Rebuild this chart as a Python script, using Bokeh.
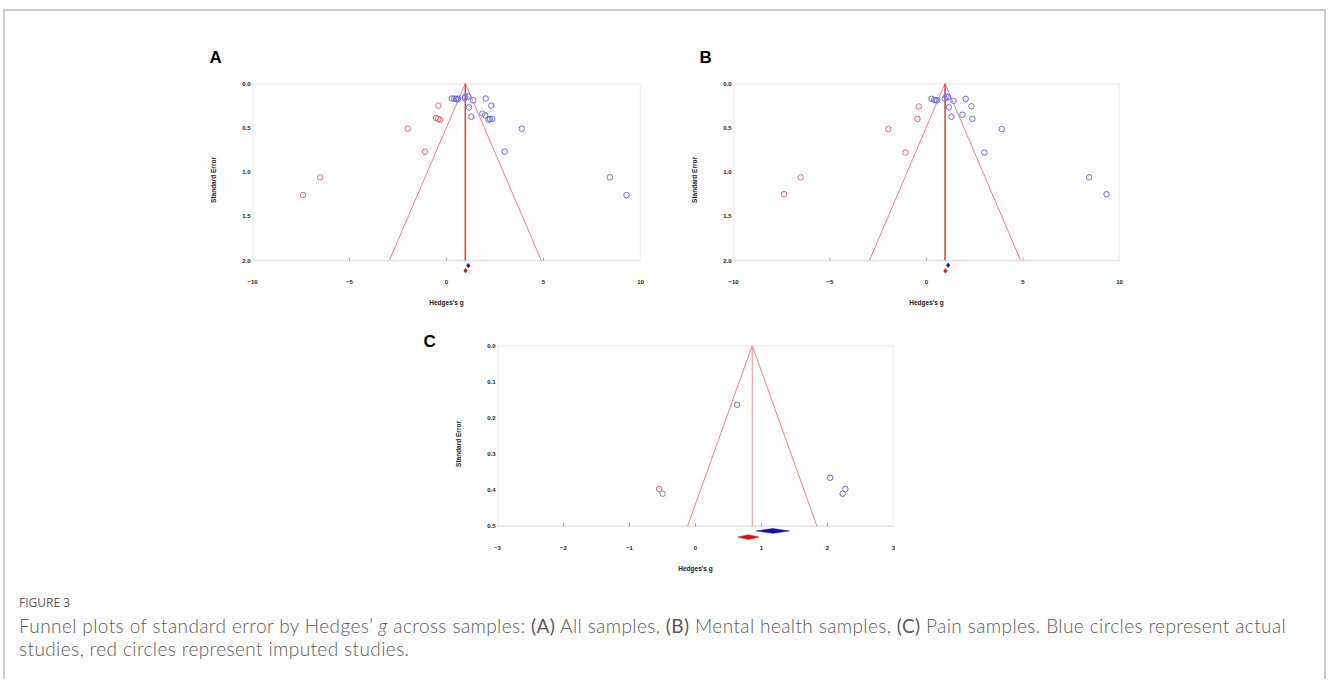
from bokeh.plotting import figure
from bokeh.models import FixedTicker, PrintfTickFormatter, BoxAnnotation, Div, Range1d
from bokeh.layouts import row, column
from bokeh.embed import file_html
from bokeh.resources import INLINE

# ---------------- data ----------------
# Panel A: all samples
A_obs_g  = [0.27, 0.40, 0.49, 0.55, 0.60, 0.94, 0.97, 1.12, 1.38, 2.02, 2.31, 1.16, 1.28,
            1.85, 1.99, 2.17, 2.24, 2.36, 3.88, 3.00, 8.42, 9.28]
A_obs_se = [0.17, 0.17, 0.175, 0.18, 0.17, 0.165, 0.15, 0.145, 0.19, 0.17, 0.25, 0.27, 0.375,
            0.34, 0.36, 0.41, 0.40, 0.40, 0.51, 0.77, 1.06, 1.26]
A_imp_g  = [-0.42, -0.54, -0.43, -0.33, -2.00, -1.11, -6.51, -7.40]
A_imp_se = [0.25, 0.39, 0.40, 0.41, 0.51, 0.77, 1.06, 1.26]
A_mean = 0.97
A_se_max = 2.0
# summary diamonds: [estimate, lower, upper, y]
A_diam_obs = [1.12, 1.03, 1.21, 2.057]
A_diam_imp = [0.98, 0.89, 1.07, 2.113]

# Panel B: mental health samples
B_obs_g  = [0.26, 0.40, 0.48, 0.55, 0.95, 1.03, 1.12, 1.40, 2.03, 2.33, 1.16, 1.29, 1.86,
            2.38, 3.90, 3.00, 8.43, 9.33]
B_obs_se = [0.173, 0.185, 0.19, 0.19, 0.17, 0.147, 0.155, 0.195, 0.173, 0.257, 0.27, 0.376,
            0.353, 0.398, 0.515, 0.78, 1.06, 1.25]
B_imp_g  = [-0.40, -0.47, -1.98, -1.09, -6.52, -7.38]
B_imp_se = [0.26, 0.40, 0.515, 0.78, 1.06, 1.25]
B_mean = 0.96
B_se_max = 2.0
B_diam_obs = [1.12, 1.03, 1.21, 2.053]
B_diam_imp = [0.98, 0.89, 1.07, 2.117]

# Panel C: pain samples
C_obs_g  = [0.63, 2.04, 2.27, 2.23]
C_obs_se = [0.164, 0.366, 0.397, 0.41]
C_imp_g  = [-0.55, -0.50]
C_imp_se = [0.397, 0.41]
C_mean = 0.86
C_se_max = 0.5
C_diam_obs = [1.17, 0.92, 1.42, 0.513]
C_diam_imp = [0.80, 0.64, 0.96, 0.530]

AB_xticks = [-10, -5, 0, 5, 10]
AB_yticks = [0.0, 0.5, 1.0, 1.5, 2.0]
C_xticks = [-3, -2, -1, 0, 1, 2, 3]
C_yticks = [0.0, 0.1, 0.2, 0.3, 0.4, 0.5]

X_LABEL = "Hedges's g"
Y_LABEL = "Standard Error"

# ---------------- style ----------------
FONT = "Liberation Sans"
OBS_COLOR = "#6d6dde"
IMP_COLOR = "#e46a6a"
FUNNEL_COLOR = "#f08282"
FRAME_COLOR = "#a3a3a3"


def panel(letter, obs_g, obs_se, imp_g, imp_se, mean, se_max, d_obs, d_imp,
          xticks, yticks, y_end, width, height, mb_left, mb_right, mb_top, mb_bottom,
          title_offset, title_standoff, vline_color, vline_width):
    p = figure(width=width, height=height, output_backend="svg", toolbar_location=None,
               x_range=Range1d(xticks[0], xticks[-1]), y_range=Range1d(y_end, 0),
               min_border_left=mb_left, min_border_right=mb_right,
               min_border_top=mb_top, min_border_bottom=mb_bottom)
    p.outline_line_color = None
    p.xgrid.visible = False
    p.ygrid.visible = False
    p.background_fill_color = "white"
    p.border_fill_color = "white"

    for ax in (p.xaxis[0], p.yaxis[0]):
        ax.axis_line_color = None
        ax.major_tick_line_color = None
        ax.minor_tick_line_color = None
        ax.major_tick_out = 0
        ax.major_tick_in = 0
        ax.minor_tick_out = 0
        ax.minor_tick_in = 0
        ax.major_label_text_font = FONT
        ax.major_label_text_font_style = "bold"
        ax.major_label_text_font_size = "6px"
        ax.major_label_text_color = "#222222"
        ax.axis_label_text_font = FONT
        ax.axis_label_text_font_style = "bold"
        ax.axis_label_text_font_size = "6.5px"
        ax.axis_label_text_color = "#222222"
    p.xaxis[0].major_label_standoff = 3
    p.yaxis[0].major_label_standoff = 2
    p.xaxis[0].ticker = FixedTicker(ticks=xticks)
    p.yaxis[0].ticker = FixedTicker(ticks=yticks)
    p.yaxis[0].formatter = PrintfTickFormatter(format="%.1f")
    p.xaxis[0].axis_label = X_LABEL
    p.yaxis[0].axis_label = Y_LABEL
    p.xaxis[0].axis_label_standoff = 12
    p.yaxis[0].axis_label_standoff = 22

    # frame box from se 0 to se_max
    p.add_layout(BoxAnnotation(left=xticks[0], right=xticks[-1], top=0, bottom=se_max,
                               fill_alpha=0, line_color=FRAME_COLOR, line_width=1.5,
                               level="underlay"))
    # small tick notches on the bottom line
    inner = xticks[1:-1]
    notch = y_end * 0.014
    p.segment(x0=inner, y0=[se_max] * len(inner), x1=inner, y1=[se_max - notch] * len(inner),
              line_color=FRAME_COLOR, line_width=1)

    # funnel
    half = 1.96 * se_max
    p.line([mean - half, mean, mean + half], [se_max, 0, se_max],
           line_color=FUNNEL_COLOR, line_width=1)
    p.line([mean, mean], [0, se_max], line_color=vline_color, line_width=vline_width)

    # studies
    p.scatter(obs_g, obs_se, marker="circle", size=5.5, fill_color=None,
              line_color=OBS_COLOR, line_width=1)
    p.scatter(imp_g, imp_se, marker="circle", size=5.5, fill_color=None,
              line_color=IMP_COLOR, line_width=1)

    # summary diamonds
    h = y_end * 0.012
    xs, ys = [], []
    for d in (d_obs, d_imp):
        est, lo, hi, yy = d
        xs.append([lo, est, hi, est])
        ys.append([yy, yy - h, yy, yy + h])
    p.patches(xs, ys, fill_color=["#1010b0", "#e01010"], line_color=["#1010b0", "#e01010"],
              line_width=0.5)

    p.title.text = letter
    p.title.text_font = FONT
    p.title.text_font_style = "bold"
    p.title.text_font_size = "17px"
    p.title.text_color = "#000000"
    p.title.align = "left"
    p.title.offset = title_offset
    p.title.standoff = title_standoff
    return p


pA = panel("A", A_obs_g, A_obs_se, A_imp_g, A_imp_se, A_mean, A_se_max, A_diam_obs, A_diam_imp,
           AB_xticks, AB_yticks, 2.18, width=688, height=312,
           mb_left=252, mb_right=48, mb_top=83, mb_bottom=36,
           title_offset=-43, title_standoff=34, vline_color="#e04848", vline_width=1.6)
pB = panel("B", B_obs_g, B_obs_se, B_imp_g, B_imp_se, B_mean, B_se_max, B_diam_obs, B_diam_imp,
           AB_xticks, AB_yticks, 2.18, width=441, height=312,
           mb_left=44, mb_right=10, mb_top=83, mb_bottom=36,
           title_offset=-34, title_standoff=34, vline_color="#e04848", vline_width=1.6)
pC = panel("C", C_obs_g, C_obs_se, C_imp_g, C_imp_se, C_mean, C_se_max, C_diam_obs, C_diam_imp,
           C_xticks, C_yticks, 0.545, width=913, height=268,
           mb_left=497, mb_right=20, mb_top=33, mb_bottom=38,
           title_offset=-74, title_standoff=-10, vline_color="#f09090", vline_width=1)

caption_html = (
    '<div style="position:absolute; left:-2px; top:-576px; width:1323px; height:670px; '
    'box-sizing:border-box; border:2px solid #cccccc; border-bottom:none; pointer-events:none;"></div>'
    '<div style="color:#5a5a5a; padding-left:14px; padding-top:10px;">'
    '<div style="font-family:\'Open Sans\', sans-serif; font-size:12px; line-height:16px;">FIGURE 3</div>'
    '<div style="font-family:Lato, sans-serif; font-size:19px; line-height:23px; margin-top:3px; '
    'white-space:nowrap; font-weight:300; letter-spacing:0.4px;">'
    'Funnel plots of standard error by Hedges\u2019 <i>g</i> across samples: <b>(A)</b> All samples, '
    '<b>(B)</b> Mental health samples, <b>(C)</b> Pain samples. Blue circles represent actual<br>'
    'studies, red circles represent imputed studies.</div></div>'
)
cap = Div(text=caption_html, width=1300, height=88)

layout = column(row(pA, pB), pC, cap)

open("out.html", "w").write(file_html(layout, INLINE))
